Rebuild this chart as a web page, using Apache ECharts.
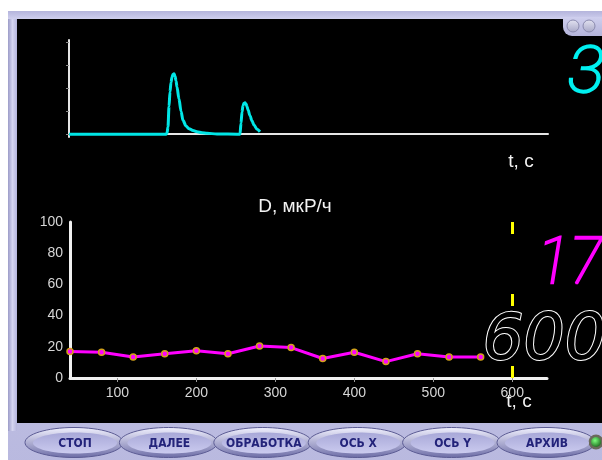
<!DOCTYPE html>
<html>
<head>
<meta charset="utf-8">
<script src="https://cdn.jsdelivr.net/npm/echarts@6/dist/echarts.min.js"></script>
<style>
  html, body { margin: 0; padding: 0; background: #ffffff; }
  #chart { width: 602px; height: 460px; }
</style>
</head>
<body>
<div id="chart"></div>
<script>
// Spectrum trace (upper panel): channel / counts
var specX = [0, 97, 98, 99, 100, 101, 102, 103, 104, 105, 106, 107, 108, 110, 112, 114, 117, 120, 124, 128, 133, 138, 148, 170, 171, 172, 173, 174, 175, 176, 177, 178, 179, 181, 183, 185, 188, 191];
var specY = [0, 0, 1, 8, 30, 46, 56, 62, 65, 65.5, 63, 58, 51, 38, 25, 15, 9, 6, 4, 2.7, 1.6, 1, 0.3, 0, 0, 12, 24, 31, 33.5, 34, 33, 30, 26.5, 20, 14.5, 10, 5.5, 2.7];
var specTicks = [0, 25, 50, 75, 100];

// Dose rate over time (lower panel)
var timeX = [40, 80, 120, 160, 200, 240, 280, 320, 360, 400, 440, 480, 520, 560];
var doseY = [17, 16.5, 13.5, 15.5, 17.5, 15.5, 20.5, 19.5, 12.5, 16.5, 10.5, 15.5, 13.5, 13.5];
var timeTicks = [100, 200, 300, 400, 500, 600];
var cursorT = 600;

// Panel read-outs and controls
var readTop = '3';
var readDose = '17';
var readTime = '600';
var doseTitle = 'D, мкР/ч';
var timeTitle = 't, c';
var buttons = ['СТОП', 'ДАЛЕЕ', 'ОБРАБОТКА', 'ОСЬ X', 'ОСЬ Y', 'АРХИВ'];

var chart = echarts.init(document.getElementById('chart'), null, { renderer: 'canvas' });

function pairs(xs, ys) {
  return xs.map(function (x, i) { return [x, ys[i]]; });
}

function grad(c0, c1) {
  return new echarts.graphic.LinearGradient(0, 0, 0, 1, [
    { offset: 0, color: c0 }, { offset: 1, color: c1 }
  ]);
}

var g = [];
// window frame
g.push({ type: 'rect', z: -20, shape: { x: 8, y: 11, width: 600, height: 460 },
  style: { fill: grad('#c9c9ea', '#b9b9df') } });
g.push({ type: 'rect', z: -19, shape: { x: 8, y: 11, width: 9, height: 420 },
  style: { fill: new echarts.graphic.LinearGradient(0, 0, 1, 0, [
    { offset: 0, color: '#9c9cc8' }, { offset: 0.5, color: '#d4d4f0' }, { offset: 1, color: '#b4b4dc' }]) } });
g.push({ type: 'rect', z: -19, shape: { x: 8, y: 11, width: 594, height: 8 },
  style: { fill: grad('#b4b4dc', '#cfcfee') } });
// display area
g.push({ type: 'rect', z: -18, shape: { x: 17, y: 19, width: 590, height: 404 },
  style: { fill: '#000000' } });
// top-right tab with window buttons
g.push({ type: 'rect', z: -17, shape: { x: 563, y: 17, width: 45, height: 19, r: [0, 0, 0, 9] },
  style: { fill: grad('#cfcfee', '#b4b4da') } });
[573, 589].forEach(function (cx) {
  g.push({ type: 'circle', z: -16, shape: { cx: cx, cy: 26, r: 6 },
    style: { fill: grad('#e4e4f2', '#a6a6c6'), stroke: '#8a8aae', lineWidth: 1 } });
});
// button bar
buttons.forEach(function (label, i) {
  var cx = 74 + i * 94.4, cy = 442.5;
  g.push({ type: 'ellipse', z: -15, shape: { cx: cx, cy: cy, rx: 49, ry: 15 },
    style: { fill: grad('#f2f2ff', '#6c6ca6'), stroke: '#5c5c94', lineWidth: 1 } });
  g.push({ type: 'ellipse', z: -14, shape: { cx: cx + 1, cy: cy + 0.5, rx: 42, ry: 10.5 },
    style: { fill: grad('#a8a8d8', '#cbcbef') } });
  g.push({ type: 'text', z: -13, x: cx + 1, y: cy + 1,
    style: { text: label, fill: '#23237a', fontSize: 12, fontWeight: 'bold',
      fontFamily: 'DejaVu Sans Condensed', align: 'center', verticalAlign: 'middle',
      textAlign: 'center', textVerticalAlign: 'middle' } });
});
// status LED
g.push({ type: 'circle', z: -15, shape: { cx: 596, cy: 442, r: 7.5 },
  style: { fill: '#6a6a5a' } });
g.push({ type: 'circle', z: -14, shape: { cx: 596, cy: 442, r: 5 },
  style: { fill: new echarts.graphic.RadialGradient(0.4, 0.35, 0.7, [
    { offset: 0, color: '#7dff7d' }, { offset: 1, color: '#1f6a1f' }]) } });

// axis captions
function caption(txt, x, y) {
  return { type: 'text', z: 5, x: x, y: y,
    style: { text: txt, fill: '#f2f2f2', fontSize: 19, fontFamily: 'Liberation Sans',
      align: 'center', verticalAlign: 'middle', textAlign: 'center', textVerticalAlign: 'middle' } };
}
g.push(caption(timeTitle, 521, 162));
g.push(caption(doseTitle, 295, 207));
g.push(caption(timeTitle, 519, 402));

// seven-segment style read-outs
function readout(txt, xRight, yMid, fill, stroke, lw, family, weight, sx, sy) {
  return { type: 'text', z: 20, x: xRight, y: yMid, scaleX: sx, scaleY: sy,
    style: { text: txt, fill: fill, stroke: stroke, lineWidth: lw,
      fontSize: 72, fontStyle: 'italic', fontWeight: weight, fontFamily: family,
      align: 'right', verticalAlign: 'middle', textAlign: 'right', textVerticalAlign: 'middle' } };
}
g.push(readout(readTop, 604, 76, '#00f0f0', '#00f0f0', 2.5, 'Roboto', 100, 0.95, 0.9));
g.push(readout(readDose, 602, 267, '#ff00ff', '#ff00ff', 2.5, 'Roboto', 100, 0.85, 0.9));
g.push(readout(readTime, 606, 343, '#000000', '#ffffff', 2, 'DejaVu Sans Condensed', 'normal', 1, 0.88));

var axisTxt = { color: '#d6d6d6', fontSize: 14, fontFamily: 'Liberation Sans' };

var option = {
  backgroundColor: 'transparent',
  animation: false,
  graphic: { elements: g },
  grid: [
    { left: 69, top: 40, width: 479, height: 97, outerBoundsMode: 'none' },
    { left: 70, top: 222, width: 477, height: 156, outerBoundsMode: 'none' }
  ],
  xAxis: [
    { type: 'value', gridIndex: 0, min: 0, max: 479,
      axisLine: { show: true, lineStyle: { color: '#e6e6e6', width: 2 } },
      axisTick: { show: false }, axisLabel: { show: false }, splitLine: { show: false } },
    { type: 'value', gridIndex: 1, min: 40, max: 644,
      axisLine: { show: true, lineStyle: { color: '#f0f0f0', width: 3 } },
      axisTick: { show: true, customValues: timeTicks, length: 4, lineStyle: { color: '#9a9a9a' } },
      axisLabel: Object.assign({ customValues: timeTicks, margin: 8 }, axisTxt),
      splitLine: { show: false } }
  ],
  yAxis: [
    { type: 'value', gridIndex: 0, min: -3, max: 102,
      axisLine: { show: true, lineStyle: { color: '#e6e6e6', width: 2 } },
      axisTick: { show: true, customValues: specTicks, length: 3, lineStyle: { color: '#8a8a8a' } },
      axisLabel: { show: false }, splitLine: { show: false } },
    { type: 'value', gridIndex: 1, min: 0, max: 100, interval: 20,
      axisLine: { show: true, lineStyle: { color: '#f0f0f0', width: 3 } },
      axisTick: { show: false },
      axisLabel: Object.assign({ margin: 7 }, axisTxt),
      splitLine: { show: false } }
  ],
  series: [
    { type: 'line', xAxisIndex: 0, yAxisIndex: 0, data: pairs(specX, specY),
      showSymbol: false, smooth: 0.3, smoothMonotone: 'x',
      lineStyle: { color: '#00e6e6', width: 3 } },
    { type: 'line', xAxisIndex: 1, yAxisIndex: 1, data: pairs(timeX, doseY),
      symbol: 'circle', symbolSize: 6,
      lineStyle: { color: '#ff00ff', width: 3 },
      itemStyle: { color: '#ff00ff', borderColor: '#d2a21a', borderWidth: 1.5 },
      markLine: { silent: true, symbol: 'none', label: { show: false },
        lineStyle: { color: '#ffff00', width: 3, type: [12, 60] },
        data: [{ xAxis: cursorT }] } }
  ]
};
chart.setOption(option);
</script>
</body>
</html>
